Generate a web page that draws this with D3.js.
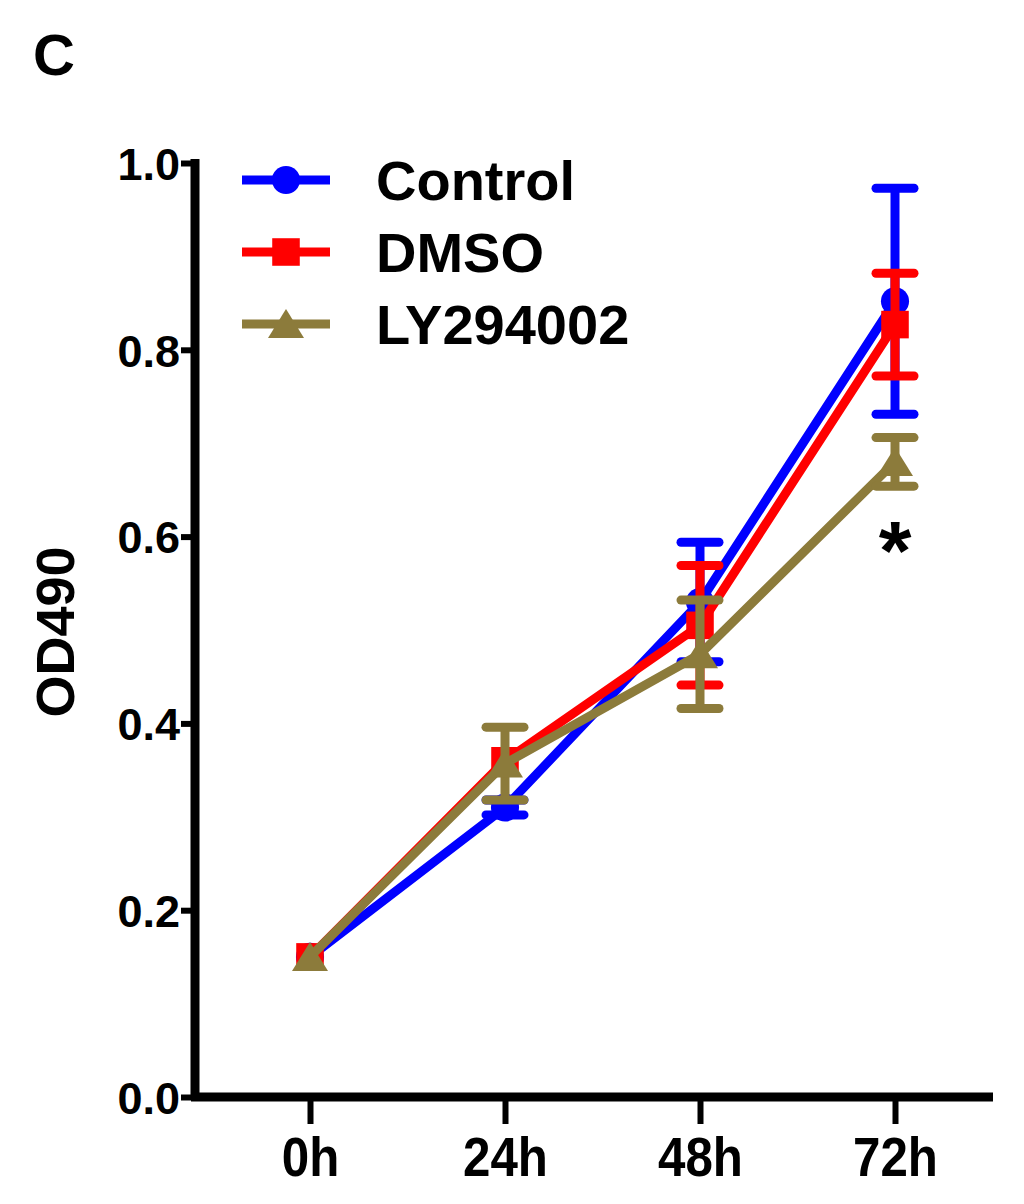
<!DOCTYPE html>
<html><head><meta charset="utf-8">
<script src="https://cdn.jsdelivr.net/npm/d3@7"></script>
<style>html,body{margin:0;padding:0;background:#fff;}</style>
</head><body>
<script>
const categories = ["0h","24h","48h","72h"];
const seriesNames = ["Control","DMSO","LY294002"];
const controlMean = [0.15, 0.31, 0.53, 0.852];
const controlErr  = [0.0, 0.008, 0.064, 0.121];
const dmsoMean    = [0.15, 0.36, 0.505, 0.827];
const dmsoErr     = [0.0, 0.0, 0.064, 0.055];
const lyMean      = [0.15, 0.357, 0.474, 0.68];
const lyErr       = [0.0, 0.039, 0.058, 0.026];
const yTicks = [0.0, 0.2, 0.4, 0.6, 0.8, 1.0];
const colors = ["#0000ff", "#ff0000", "#8c7b3b"];
const shapes = ["circle", "square", "triangle"];

const W = 1024, H = 1204;
const svg = d3.select("body").append("svg").attr("width", W).attr("height", H);

const x = d3.scalePoint().domain(categories).range([310, 895]);
const y = d3.scaleLinear().domain([0, 1]).range([1097, 163]);

const series = [
  {name: seriesNames[0], mean: controlMean, err: controlErr, color: colors[0], shape: shapes[0]},
  {name: seriesNames[1], mean: dmsoMean, err: dmsoErr, color: colors[1], shape: shapes[1]},
  {name: seriesNames[2], mean: lyMean, err: lyErr, color: colors[2], shape: shapes[2]}
];

function symbolPath(shape) {
  if (shape === "circle") return d3.symbol(d3.symbolCircle, 620)();
  if (shape === "square") return d3.symbol(d3.symbolSquare, 760)();
  return "M0,-15L18,14L-18,14Z";
}

const font = "Liberation Sans, Arial, sans-serif";

svg.append("text").attr("x", 33).attr("y", 75).text("C")
  .attr("font-family", font).attr("font-weight", "bold")
  .attr("font-size", 58).attr("fill", "#000");

const line = d3.line().x((d,i) => x(categories[i])).y(d => y(d));
series.forEach(s => {
  const g = svg.append("g");
  g.append("path").datum(s.mean).attr("d", line)
    .attr("fill", "none").attr("stroke", s.color).attr("stroke-width", 9)
    .attr("stroke-linejoin", "round");
  s.mean.forEach((m, i) => {
    const e = s.err[i];
    if (e <= 0) return;
    const cx = x(categories[i]);
    g.append("line").attr("x1", cx).attr("x2", cx).attr("y1", y(m + e)).attr("y2", y(m - e))
      .attr("stroke", s.color).attr("stroke-width", 9);
    [m + e, m - e].forEach(v => {
      g.append("line").attr("x1", cx - 19).attr("x2", cx + 19).attr("y1", y(v)).attr("y2", y(v))
        .attr("stroke", s.color).attr("stroke-width", 9).attr("stroke-linecap", "round");
    });
  });
  s.mean.forEach((m, i) => {
    g.append("path").attr("d", symbolPath(s.shape))
      .attr("transform", `translate(${x(categories[i])},${y(m)})`)
      .attr("fill", s.color);
  });
});

const yAxis = svg.append("g").attr("transform", "translate(195,0)")
  .call(d3.axisLeft(y).tickValues(yTicks).tickFormat(d3.format(".1f")).tickSize(14).tickPadding(1));
yAxis.select(".domain").attr("stroke", "#000").attr("stroke-width", 9).attr("d", `M0,${y(1)-4}V${y(0)}`);
yAxis.selectAll(".tick line").attr("stroke", "#000").attr("stroke-width", 6);
yAxis.selectAll(".tick text").attr("font-family", font).attr("font-weight", "bold")
  .attr("font-size", 45).attr("fill", "#000").attr("dy", "0.36em");

const xAxis = svg.append("g").attr("transform", "translate(0,1097)")
  .call(d3.axisBottom(x).tickSize(27).tickPadding(12));
xAxis.select(".domain").attr("stroke", "#000").attr("stroke-width", 9).attr("d", `M191,0H993`);
xAxis.selectAll(".tick line").attr("stroke", "#000").attr("stroke-width", 6);
xAxis.selectAll(".tick text").attr("font-family", font)
  .attr("font-weight", "bold").attr("font-size", 56).attr("fill", "#000")
  .attr("transform", "scale(0.88,1)");

svg.append("text").attr("transform", "translate(74,632) rotate(-90)")
  .attr("text-anchor", "middle").text("OD490")
  .attr("font-family", font).attr("font-weight", "bold").attr("font-size", 54).attr("fill", "#000");

const legend = svg.append("g");
series.forEach((s, i) => {
  const ly = 180 + i * 72;
  legend.append("line").attr("x1", 242).attr("x2", 330).attr("y1", ly).attr("y2", ly)
    .attr("stroke", s.color).attr("stroke-width", 9);
  legend.append("path").attr("d", symbolPath(s.shape))
    .attr("transform", `translate(286,${ly})`).attr("fill", s.color);
  legend.append("text").attr("x", 376).attr("y", ly + 20).text(s.name)
    .attr("font-family", font).attr("font-weight", "bold").attr("font-size", 56).attr("fill", "#000");
});

svg.append("text").attr("x", x("72h")).attr("y", 580).attr("text-anchor", "middle").text("*")
  .attr("font-family", font).attr("font-weight", "bold").attr("font-size", 84).attr("fill", "#000");
</script>
</body></html>
